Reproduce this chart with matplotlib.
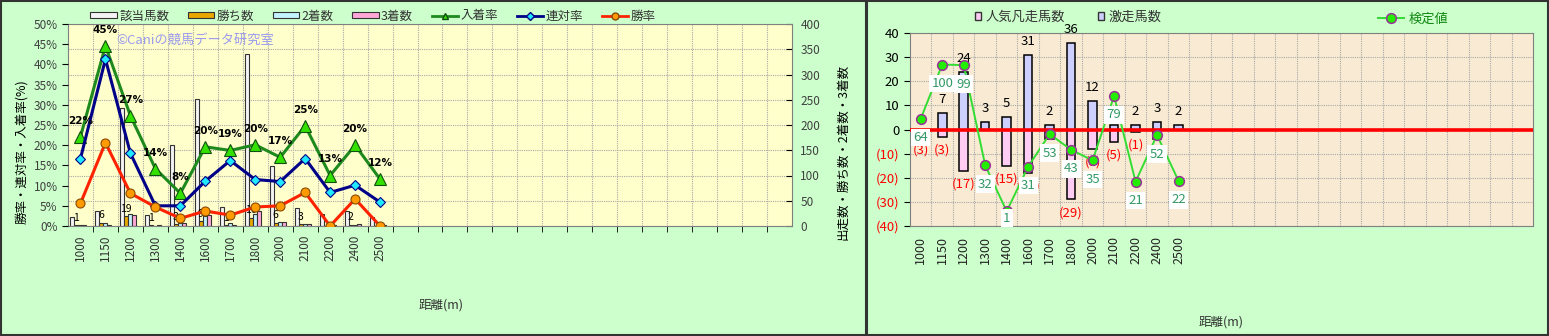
import matplotlib
matplotlib.use("Agg")
import matplotlib.pyplot as plt
import numpy as np
from matplotlib.lines import Line2D
from matplotlib.patches import Patch, Rectangle

plt.rcParams["font.family"] = ["Noto Sans CJK JP", "DejaVu Sans"]

# 距離カテゴリ
DISTANCES = ["1000", "1150", "1200", "1300", "1400", "1600", "1700",
             "1800", "2000", "2100", "2200", "2400", "2500"]

# 左：成績（頭数）
RUNNERS = [18, 29, 233, 21, 160, 251, 37, 340, 119, 36, 24, 30, 17]
WINS = [1, 6, 19, 1, 3, 9, 1, 16, 6, 3, 0, 2, 0]
SECONDS = [2, 6, 23, 0, 5, 19, 5, 23, 7, 3, 2, 1, 1]
THIRDS = [1, 1, 22, 2, 5, 21, 1, 29, 7, 3, 1, 3, 1]

# 左：率（%）
WIN_RATE = [5.6, 20.6, 8.1, 4.7, 1.9, 3.7, 2.7, 4.7, 5.0, 8.3, 0.0, 6.7, 0.0]
QUINELLA_RATE = [16.7, 41.3, 18.0, 5.0, 5.0, 11.1, 16.2, 11.5, 11.0, 16.7, 8.3, 10.1, 5.9]
PLACE_RATE = [22.1, 44.6, 27.3, 14.2, 8.1, 19.6, 18.7, 20.1, 17.0, 24.8, 12.5, 20.0, 11.6]

# 右：激走 / 人気凡走 / 検定値
SURGE = [0, 7, 24, 3, 5, 31, 2, 36, 12, 2, 2, 3, 2]
FLOP = [3, 3, 17, 0, 15, 18, 4, 29, 8, 5, 1, 4, 0]
TEST_POS = [4.5, 26.9, 26.7, -14.8, -33.9, -15.4, -1.9, -8.4, -12.8, 13.9, -21.6, -2.3, -21.3]
TEST_LABEL = [64, 100, 99, 32, 1, 31, 53, 43, 35, 79, 21, 52, 22]

N_SLOTS = 29  # 軸は29枠分、使うのは先頭13枠
W, H = 1549, 336

FIG_BG = "#CCFFCC"
GRID = dict(color="#A8A8A8", linestyle=(0, (1, 1)), linewidth=0.8)

fig = plt.figure(figsize=(W / 100, H / 100), dpi=100, facecolor=FIG_BG)


def px(x0, y0, x1, y1):
    return [x0 / W, 1 - y1 / H, (x1 - x0) / W, (y1 - y0) / H]


x = np.arange(len(DISTANCES))

# ---------------- 左パネル ----------------
ax_cnt = fig.add_axes(px(68, 24, 792, 226))
ax_cnt.set_facecolor("#FFFFCC")
ax_cnt.set_xlim(-0.5, N_SLOTS - 0.5)
ax_cnt.set_ylim(0, 400)
ax_cnt.set_yticks(range(0, 401, 50))
ax_cnt.set_xticks(x)
ax_cnt.set_xticklabels(DISTANCES, rotation=90, fontsize=8.5, color="#333333")
ax_cnt.set_xticks(np.arange(0.5, N_SLOTS - 1, 1), minor=True)
ax_cnt.tick_params(axis="x", which="major", length=0, pad=6)
ax_cnt.tick_params(axis="x", which="minor", length=4)
ax_cnt.grid(axis="y", **GRID)
ax_cnt.grid(axis="x", which="minor", **GRID)
ax_cnt.set_axisbelow(True)
for s in ax_cnt.spines.values():
    s.set_color("#808080")

bw = 0.16
bar_specs = [
    (RUNNERS, "#F4F4F4", -0.34),
    (WINS, "#E8A800", -0.18),
    (SECONDS, "#C4F2FF", -0.02),
    (THIRDS, "#FFA8D8", 0.14),
]
for vals, col, off in bar_specs:
    ax_cnt.bar(x + off, vals, width=bw, color=col, edgecolor="#333333", linewidth=0.8, zorder=2)

for xi, w in zip(x, WINS):
    if w > 0:
        ax_cnt.annotate(str(w), (xi - 0.18, w), xytext=(0, 2), textcoords="offset points",
                        ha="center", va="bottom", fontsize=7.5, color="black", zorder=3)

ax_pct = ax_cnt.twinx()
# twinx が元の軸を左に戻すので、ここで左右を入れ替える
ax_cnt.yaxis.tick_right()
ax_cnt.tick_params(axis="y", direction="in", length=4, labelsize=8.5, labelcolor="#404040", pad=6)
ax_pct.set_ylim(0, 50)
ax_pct.set_yticks(range(0, 51, 5))
ax_pct.set_yticklabels([f"{v}%" for v in range(0, 51, 5)])
ax_pct.yaxis.tick_left()
ax_pct.tick_params(axis="y", direction="out", length=4, labelsize=8.5, labelcolor="#404040")
for s in ax_pct.spines.values():
    s.set_visible(False)

ax_pct.plot(x, PLACE_RATE, color="#1E8A1E", lw=2.2, marker="^", ms=8,
            mfc="#33E000", mec="#105010", mew=0.8, zorder=4)
ax_pct.plot(x, QUINELLA_RATE, color="#000088", lw=2.2, marker="D", ms=5.5,
            mfc="#20E8FF", mec="#000088", mew=0.8, zorder=5)
ax_pct.plot(x, WIN_RATE, color="#FF2200", lw=2.2, marker="o", ms=6.5,
            mfc="#FF9A00", mec="#8A4A00", mew=0.8, zorder=6)

for xi, v in zip(x, PLACE_RATE):
    ax_pct.annotate(f"{int(v + 0.5)}%", (xi, v), xytext=(0, 8), textcoords="offset points",
                    ha="center", va="bottom", fontsize=7.5, fontweight="bold",
                    family=["DejaVu Sans"], color="black", zorder=7)

ax_pct.text(0.066, 0.92, "©Caniの競馬データ研究室", transform=ax_pct.transAxes,
            fontsize=9.5, color="#9A9AEE", va="center", ha="left", zorder=1)

fig.text(22 / W, 1 - 152 / H, "勝率・連対率・入着率(%)", rotation=90,
         ha="center", va="center", fontsize=9)
fig.text(843 / W, 1 - 152 / H, "出走数・勝ち数・2着数・3着数", rotation=90,
         ha="center", va="center", fontsize=9)
fig.text(441 / W, 1 - 305 / H, "距離(m)", ha="center", va="center", fontsize=9, color="#333333")

left_handles = [Patch(fc=c, ec="#333333", lw=0.8) for _, c, _ in bar_specs] + [
    Line2D([0], [0], color="#1E8A1E", lw=2, marker="^", ms=5, mfc="#33E000", mec="#105010"),
    Line2D([0], [0], color="#000088", lw=2, marker="D", ms=4, mfc="#20E8FF", mec="#000088"),
    Line2D([0], [0], color="#FF2200", lw=2, marker="o", ms=5, mfc="#FF9A00", mec="#8A4A00"),
]
fig.legend(left_handles, ["該当馬数", "勝ち数", "2着数", "3着数", "入着率", "連対率", "勝率"],
           loc="center", bbox_to_anchor=(373 / W, 1 - 16 / H), ncol=7, frameon=False,
           fontsize=9, handlelength=2.1, handleheight=0.45, handletextpad=0.2,
           columnspacing=1.5, labelcolor="#333333")

# ---------------- 右パネル ----------------
ax_r = fig.add_axes(px(910, 33, 1533, 226))
ax_r.set_facecolor("#F9EBD3")
ax_r.set_xlim(-0.5, N_SLOTS - 0.5)
ax_r.set_ylim(-40, 40)
yt = list(range(-40, 41, 10))
ax_r.set_yticks(yt)
ax_r.set_yticklabels([str(v) if v >= 0 else f"({-v})" for v in yt])
for lab, v in zip(ax_r.get_yticklabels(), yt):
    lab.set_color("black" if v >= 0 else "#FF0000")
ax_r.tick_params(axis="y", length=4, labelsize=9.5)
ax_r.set_xticks(x)
ax_r.set_xticklabels(DISTANCES, rotation=90, fontsize=9, color="#222222")
ax_r.set_xticks(np.arange(0.5, N_SLOTS - 1, 1), minor=True)
ax_r.tick_params(axis="x", which="major", length=0, pad=7)
ax_r.tick_params(axis="x", which="minor", length=0)
ax_r.grid(axis="y", **GRID)
ax_r.grid(axis="x", which="minor", **GRID)
ax_r.set_axisbelow(True)
for s in ax_r.spines.values():
    s.set_color("#808080")

ax_r.bar(x, SURGE, width=0.4, color="#CDD0FF", edgecolor="black", linewidth=1.1, zorder=2)
ax_r.bar(x, [-f for f in FLOP], width=0.4, color="#FFCCF4", edgecolor="black", linewidth=1.1, zorder=2)
ax_r.axhline(0, color="#FF0000", lw=2.6, zorder=3)

for xi, s_, f_ in zip(x, SURGE, FLOP):
    if s_ > 0:
        ax_r.annotate(str(s_), (xi, s_), xytext=(0, 5), textcoords="offset points",
                      ha="center", va="bottom", fontsize=9.5, color="black", zorder=3)
    if f_ > 0:
        ax_r.annotate(f"({f_})", (xi, -f_), xytext=(0, -5), textcoords="offset points",
                      ha="center", va="top", fontsize=9.5, color="#FF0000", zorder=3)

ax_r.plot(x, TEST_POS, color="#33DD33", lw=1.4, marker="o", ms=7,
          mfc="#22EE00", mec="#993399", mew=1.1, zorder=5)

unit_px = (226 - 33) / 80.0
for xi, v, lab in zip(x, TEST_POS, TEST_LABEL):
    ly = max(v - 19 / unit_px, -40 + 8 / unit_px)
    ax_r.text(xi, ly, str(lab), ha="center", va="center", fontsize=9.5, color="#339966",
              zorder=6, bbox=dict(fc="white", ec="none", pad=1.6))

fig.text(1221 / W, 1 - 322 / H, "距離(m)", ha="center", va="center", fontsize=9, color="#333333")

fig.legend([Patch(fc="#FFCCF4", ec="#333333", lw=1), Patch(fc="#CDD0FF", ec="#333333", lw=1)],
           ["人気凡走馬数", "激走馬数"], loc="center", bbox_to_anchor=(1068 / W, 1 - 17 / H),
           ncol=2, frameon=False, fontsize=9.5, handlelength=0.5, handleheight=0.5,
           handletextpad=0.3, columnspacing=2.5, labelcolor="#333333")
fig.legend([Line2D([0], [0], color="#33DD33", lw=1.4, marker="o", ms=7, mfc="#22EE00",
                   mec="#993399", mew=1.1)],
           ["検定値"], loc="center", bbox_to_anchor=(1413 / W, 1 - 19 / H), frameon=False,
           fontsize=9.5, handlelength=2.0, handletextpad=0.3, labelcolor="#118811")

# パネル枠
fig.patches.append(Rectangle((0.0005, 0.002), 866 / W, 0.995, transform=fig.transFigure,
                             fill=False, ec="#333333", lw=1.5))
fig.patches.append(Rectangle((866 / W, 0.002), (W - 867) / W, 0.995, transform=fig.transFigure,
                             fill=False, ec="#333333", lw=1.5))

fig.savefig("out.png", dpi=100, facecolor=FIG_BG)
